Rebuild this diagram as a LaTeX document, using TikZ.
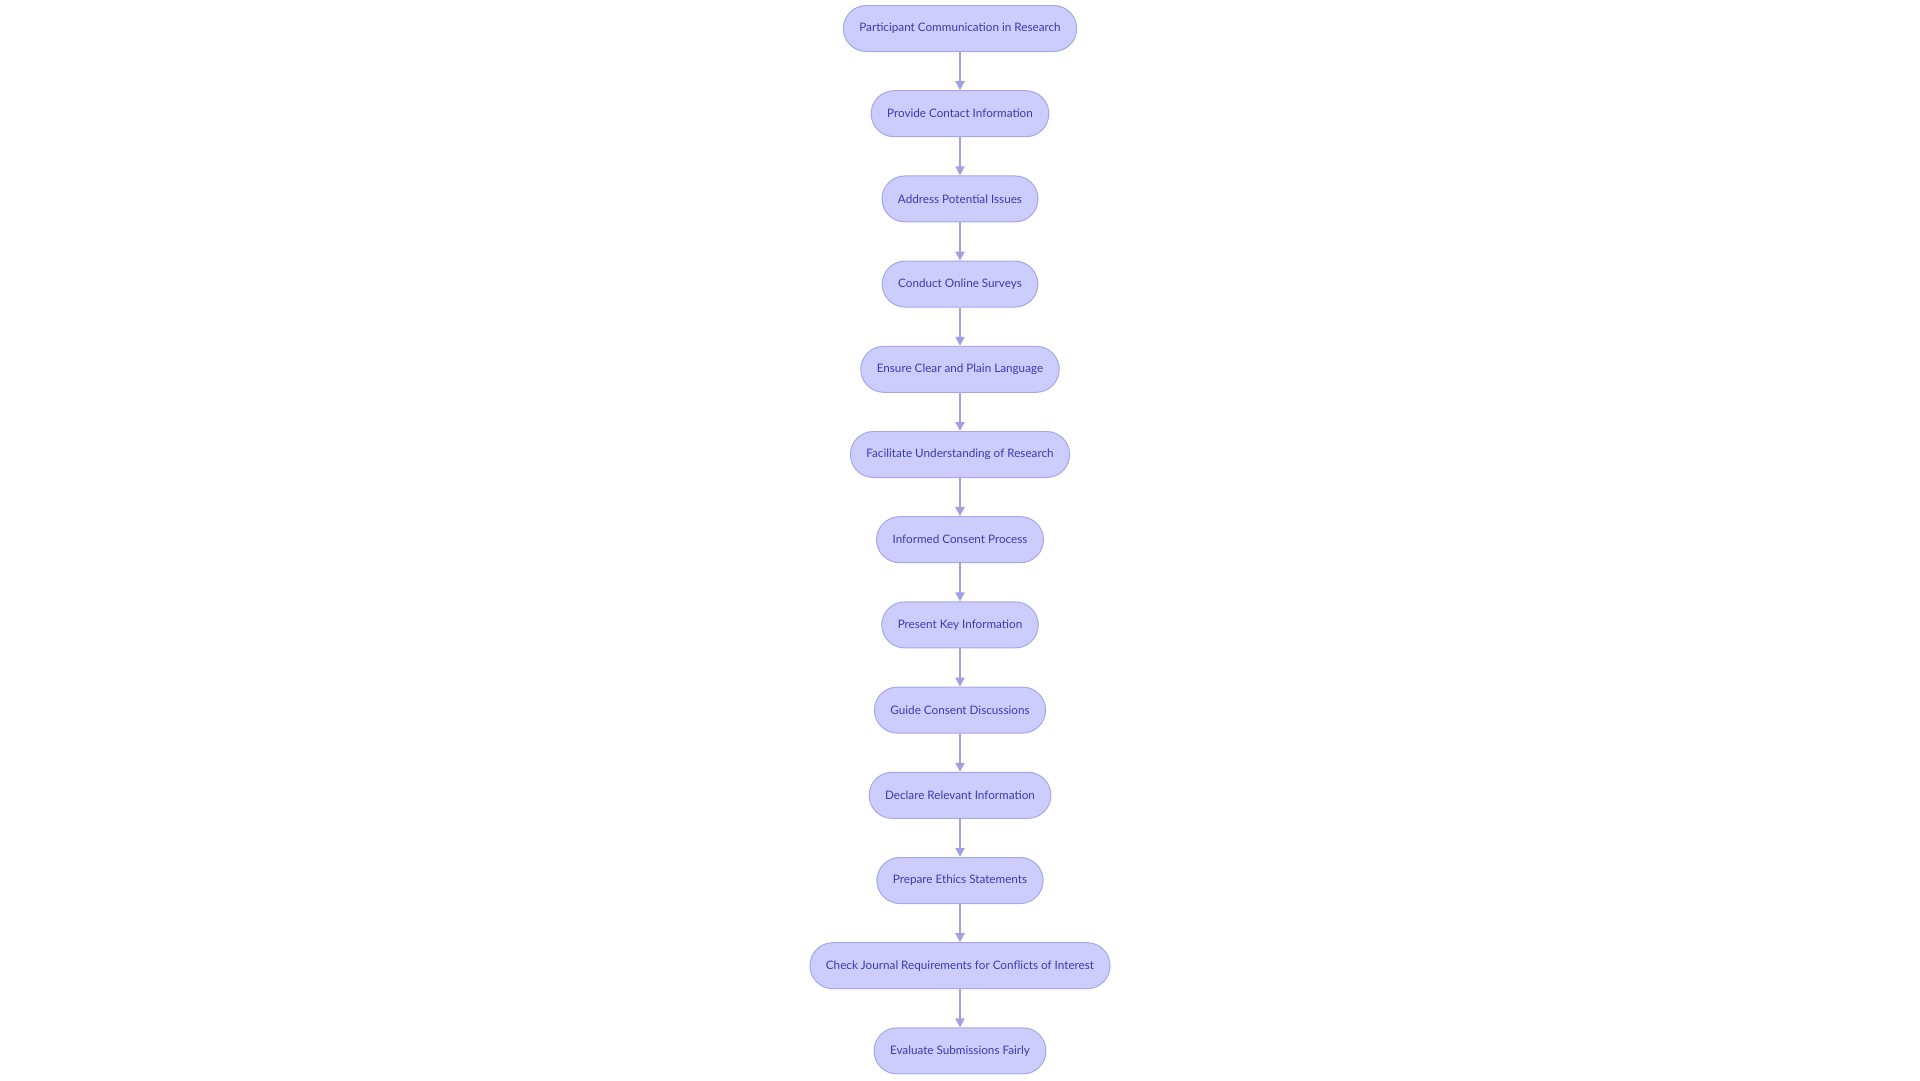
\documentclass[tikz,border=0pt]{standalone}
\usepackage{fontspec}
\setmainfont{Lato}
\usepackage{xcolor}
\usepackage{tikz}
\usetikzlibrary{shapes,arrows,positioning,calc,arrows.meta}

\definecolor{stepfill}{HTML}{CDCDFD}
\definecolor{stepline}{HTML}{A6A6EA}
\definecolor{steptext}{HTML}{3A3AB2}
\definecolor{flowline}{HTML}{A0A0E4}

\begin{document}
\begin{tikzpicture}[x=1pt,y=1pt,
    stepbox/.style={draw=stepline, fill=stepfill, line width=1pt, rounded corners=23pt,
        minimum height=46pt, inner xsep=16pt, text=steptext, font=\fontsize{11.7}{13}\selectfont},
    flow/.style={draw=flowline, line width=2pt, -{Triangle[length=9pt,width=9pt]}},
    node distance=38.2pt]
    \useasboundingbox (0,0) rectangle (1920,-1080);

    % Steps
    \node[stepbox] (p1) at (960,-28.5) {Participant Communication in Research};
    \node[stepbox, below=of p1] (p2) {Provide Contact Information};
    \node[stepbox, below=of p2] (p3) {Address Potential Issues};
    \node[stepbox, below=of p3] (p4) {Conduct Online Surveys};
    \node[stepbox, below=of p4] (p5) {Ensure Clear and Plain Language};
    \node[stepbox, below=of p5] (p6) {Facilitate Understanding of Research};
    \node[stepbox, below=of p6] (p7) {Informed Consent Process};
    \node[stepbox, below=of p7] (p8) {Present Key Information};
    \node[stepbox, below=of p8] (p9) {Guide Consent Discussions};
    \node[stepbox, below=of p9] (p10) {Declare Relevant Information};
    \node[stepbox, below=of p10] (p11) {Prepare Ethics Statements};
    \node[stepbox, below=of p11] (p12) {Check Journal Requirements for Conflicts of Interest};
    \node[stepbox, below=of p12] (p13) {Evaluate Submissions Fairly};

    % Arrows
    \foreach \a/\b in {p1/p2,p2/p3,p3/p4,p4/p5,p5/p6,p6/p7,p7/p8,p8/p9,p9/p10,p10/p11,p11/p12,p12/p13}
        \draw[flow] (\a) -- (\b);
\end{tikzpicture}
\end{document}
